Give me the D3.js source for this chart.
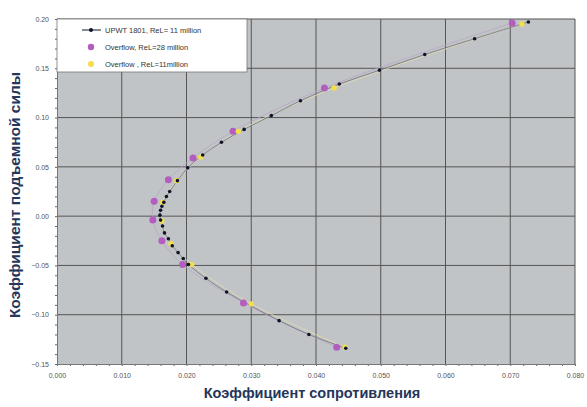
<!DOCTYPE html>
<html>
<head>
<meta charset="utf-8">
<style>
body { margin: 0; background: #fff; }
svg text { font-family: "Liberation Sans", Arial, sans-serif; }
.tick text { fill: #555; font-size: 7px; }
.axis-title { fill: #24365a; font-weight: bold; }
.legend text { fill: #333; font-size: 7.5px; }
</style>
</head>
<body>
<svg width="587" height="407"></svg>
<script src="https://d3js.org/d3.v7.min.js"></script>
<script>
// UPWT 1801, ReL = 11 million (drag, lift)
var upwtCd = [0.0728, 0.0645, 0.0568, 0.0498, 0.0436, 0.0376, 0.0331, 0.0289, 0.0254, 0.0225, 0.0202,
              0.0186, 0.0174, 0.0169, 0.0165, 0.0162, 0.0160, 0.0159, 0.0160, 0.0163, 0.0166, 0.0172,
              0.0178, 0.0187, 0.0195, 0.0203, 0.0230, 0.0262, 0.0343, 0.0389, 0.0446];
var upwtCl = [0.197, 0.180, 0.164, 0.148, 0.134, 0.117, 0.102, 0.088, 0.075, 0.062, 0.049,
              0.036, 0.025, 0.020, 0.014, 0.010, 0.006, 0.001, -0.004, -0.010, -0.017, -0.023,
              -0.030, -0.037, -0.043, -0.049, -0.063, -0.077, -0.106, -0.120, -0.134];
// Overflow, ReL = 28 million
var of28Cd = [0.0703, 0.0413, 0.0272, 0.0210, 0.0172, 0.0150, 0.0148, 0.0162, 0.0194, 0.0288, 0.0432];
var of28Cl = [0.196, 0.130, 0.086, 0.059, 0.037, 0.015, -0.004, -0.025, -0.049, -0.088, -0.133];
// Overflow, ReL = 11 million
var of11Cd = [0.0718, 0.0428, 0.0280, 0.0222, 0.0185, 0.0163, 0.0162, 0.0176, 0.0208, 0.0300, 0.0445];
var of11Cl = [0.195, 0.130, 0.086, 0.060, 0.036, 0.014, -0.005, -0.028, -0.049, -0.089, -0.133];

var xTicks = [0, 0.01, 0.02, 0.03, 0.04, 0.05, 0.06, 0.07, 0.08];
var yTicks = [-0.15, -0.10, -0.05, 0, 0.05, 0.10, 0.15, 0.20];
var legendLabels = ["UPWT 1801, ReL= 11 million", "Overflow, ReL=28 million", "Overflow , ReL=11million"];

var svg = d3.select("svg");
var pl = 57, pr = 575, pt = 19, pb = 364;

var x = d3.scaleLinear().domain([0, 0.08]).range([pl, pr]);
var y = d3.scaleLinear().domain([-0.15, 0.20]).range([pb, pt]);

function pts(xs, ys) { return xs.map(function(d, i) { return [d, ys[i]]; }); }
var upwt = pts(upwtCd, upwtCl), of28 = pts(of28Cd, of28Cl), of11 = pts(of11Cd, of11Cl);

svg.append("rect")
    .attr("x", pl).attr("y", pt)
    .attr("width", pr - pl).attr("height", pb - pt)
    .attr("fill", "#c1c4c6");

// grid
svg.append("g").selectAll("line").data(xTicks.slice(1)).enter().append("line")
    .attr("x1", d => x(d)).attr("x2", d => x(d))
    .attr("y1", pt).attr("y2", pb)
    .attr("stroke", "#555").attr("stroke-width", 1);
svg.append("g").selectAll("line").data(yTicks.slice(1)).enter().append("line")
    .attr("y1", d => y(d)).attr("y2", d => y(d))
    .attr("x1", pl).attr("x2", pr)
    .attr("stroke", "#555").attr("stroke-width", 1);

// minor ticks
var xMinor = d3.range(0, 0.0805, 0.002);
var yMinor = d3.range(-0.15, 0.2005, 0.01);
svg.append("g").attr("transform", "translate(0," + pb + ")")
    .call(d3.axisBottom(x).tickValues(xMinor).tickSize(2).tickFormat(""))
    .call(g => g.select(".domain").remove())
    .selectAll("line").attr("stroke", "#666");
svg.append("g").attr("transform", "translate(" + pl + ",0)")
    .call(d3.axisLeft(y).tickValues(yMinor).tickSize(2).tickFormat(""))
    .call(g => g.select(".domain").remove())
    .selectAll("line").attr("stroke", "#666");

// main axes
svg.append("g").attr("transform", "translate(0," + pb + ")")
    .call(d3.axisBottom(x).tickValues(xTicks).tickSize(0).tickPadding(9).tickFormat(d3.format(".3f")))
    .call(g => g.select(".domain").attr("stroke", "#777"));
svg.append("g").attr("transform", "translate(" + pl + ",0)")
    .call(d3.axisLeft(y).tickValues(yTicks).tickSize(0).tickPadding(8).tickFormat(d3.format(".2f")))
    .call(g => g.select(".domain").attr("stroke", "#777"));

// lines
var line = d3.line().x(d => x(d[0])).y(d => y(d[1])).curve(d3.curveCatmullRom);
svg.append("path").datum(of11).attr("d", line).attr("fill", "none")
    .attr("stroke", "#e0dbb0").attr("stroke-width", 0.8);
svg.append("path").datum(of28).attr("d", line).attr("fill", "none")
    .attr("stroke", "#b7a6c6").attr("stroke-width", 0.8);
svg.append("path").datum(upwt).attr("d", line).attr("fill", "none")
    .attr("stroke", "#7a7a82").attr("stroke-width", 0.9);

// markers
svg.append("g").selectAll("circle").data(of28).enter().append("circle")
    .attr("cx", d => x(d[0])).attr("cy", d => y(d[1])).attr("r", 3.5)
    .attr("fill", "#b45cc0");
svg.append("g").selectAll("circle").data(of11).enter().append("circle")
    .attr("cx", d => x(d[0])).attr("cy", d => y(d[1])).attr("r", 2.7)
    .attr("fill", "#f2e04a");
svg.append("g").selectAll("circle").data(upwt).enter().append("circle")
    .attr("cx", d => x(d[0])).attr("cy", d => y(d[1])).attr("r", 1.8)
    .attr("fill", "#10142a");

// legend
var lg = svg.append("g").attr("class", "legend");
lg.append("rect").attr("x", pl).attr("y", pt).attr("width", 190).attr("height", 53)
    .attr("fill", "#fff").attr("stroke", "#777").attr("stroke-width", 0.8);
var legendColor = ["#10142a", "#b45cc0", "#f2e04a"];
var legendR = [2, 3.2, 3];
legendLabels.forEach(function(t, i) {
    var yy = pt + 11 + i * 17;
    if (i === 0) lg.append("line").attr("x1", 82).attr("x2", 101).attr("y1", yy).attr("y2", yy)
        .attr("stroke", "#10142a").attr("stroke-width", 1);
    lg.append("circle").attr("cx", 91).attr("cy", yy).attr("r", legendR[i]).attr("fill", legendColor[i]);
    lg.append("text").attr("x", 105).attr("y", yy + 2.5).text(t);
});

// titles
svg.append("text").attr("class", "axis-title").attr("x", 312).attr("y", 398)
    .attr("text-anchor", "middle").style("font-size", "14.5px").text("Коэффициент сопротивления");
svg.append("text").attr("class", "axis-title")
    .attr("transform", "translate(20,195) rotate(-90)")
    .attr("text-anchor", "middle").style("font-size", "15.5px").text("Коэффициент подъемной силы");
</script>
</body>
</html>
